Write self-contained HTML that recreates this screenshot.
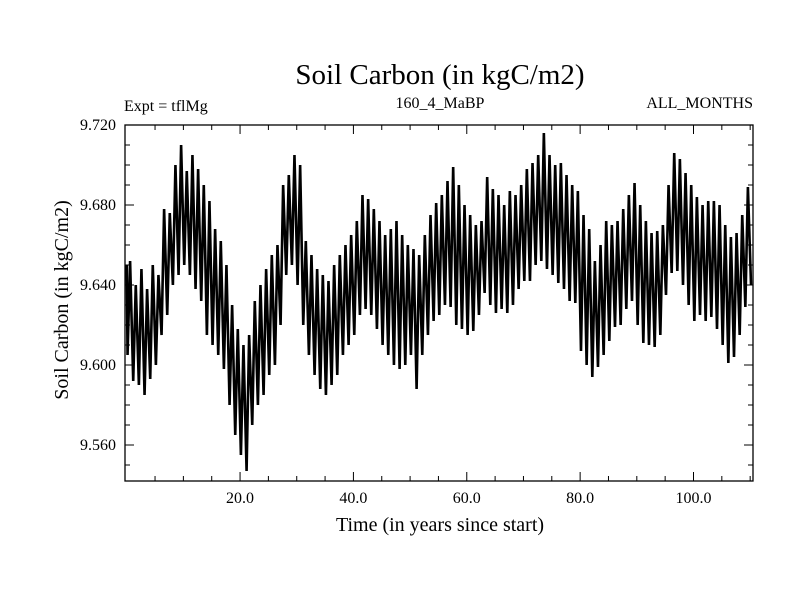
<!DOCTYPE html>
<html><head><meta charset="utf-8"><style>
body{margin:0;background:#fff;}
text{font-family:"Liberation Serif",serif;fill:#000;}
</style></head><body>
<svg id="chart" width="800" height="600" viewBox="0 0 800 600" xmlns="http://www.w3.org/2000/svg">
<rect width="800" height="600" fill="#fff"/>
<text x="440" y="84" font-size="29" text-anchor="middle">Soil Carbon (in kgC/m2)</text>
<text x="124" y="111" font-size="16">Expt = tflMg</text>
<text x="440" y="108" font-size="16" text-anchor="middle">160_4_MaBP</text>
<text x="753" y="108" font-size="16" text-anchor="end">ALL_MONTHS</text>
<text transform="translate(68,300) rotate(-90)" font-size="20" text-anchor="middle">Soil Carbon (in kgC/m2)</text>
<text x="440" y="531" font-size="20" text-anchor="middle">Time (in years since start)</text>
<g id="ticks"></g>
<path id="series" fill="none" stroke="#000" stroke-width="2.6" stroke-linejoin="miter"/>
<rect x="125" y="125" width="628" height="356" fill="none" stroke="#000" stroke-width="1.3"/>
</svg>
<script>
const peaks=[9.652,9.640,9.648,9.638,9.650,9.645,9.678,9.676,9.700,9.710,9.697,9.705,9.698,9.690,9.682,9.668,9.662,9.650,9.630,9.618,9.610,9.615,9.632,9.640,9.648,9.655,9.660,9.690,9.695,9.705,9.700,9.662,9.655,9.648,9.645,9.642,9.650,9.655,9.660,9.665,9.672,9.685,9.683,9.678,9.672,9.665,9.668,9.672,9.665,9.660,9.658,9.655,9.665,9.675,9.681,9.685,9.692,9.699,9.690,9.680,9.675,9.670,9.672,9.694,9.688,9.685,9.680,9.687,9.685,9.690,9.698,9.701,9.705,9.716,9.705,9.700,9.701,9.695,9.690,9.687,9.675,9.668,9.652,9.660,9.672,9.670,9.672,9.678,9.685,9.691,9.680,9.672,9.666,9.667,9.670,9.690,9.706,9.703,9.696,9.690,9.684,9.680,9.682,9.682,9.680,9.670,9.664,9.666,9.675,9.689,9.688];
const troughs=[9.605,9.592,9.590,9.585,9.593,9.600,9.615,9.625,9.640,9.645,9.650,9.645,9.638,9.632,9.615,9.610,9.605,9.598,9.580,9.565,9.555,9.547,9.570,9.580,9.585,9.595,9.600,9.620,9.645,9.650,9.640,9.620,9.605,9.595,9.588,9.585,9.590,9.595,9.605,9.610,9.615,9.625,9.628,9.625,9.618,9.610,9.605,9.600,9.598,9.600,9.605,9.588,9.605,9.615,9.622,9.625,9.630,9.629,9.620,9.618,9.615,9.617,9.625,9.636,9.630,9.626,9.628,9.626,9.630,9.638,9.642,9.642,9.650,9.652,9.648,9.645,9.641,9.638,9.632,9.631,9.607,9.600,9.594,9.599,9.605,9.612,9.619,9.620,9.628,9.632,9.620,9.611,9.610,9.609,9.615,9.635,9.646,9.647,9.640,9.630,9.622,9.625,9.622,9.624,9.618,9.610,9.601,9.604,9.615,9.629,9.640];
const startValue=9.650;
const xTicks=[20,40,60,80,100];
const xTickLabels=["20.0","40.0","60.0","80.0","100.0"];
const yTicks=[9.72,9.68,9.64,9.60,9.56];
const yTickLabels=["9.720","9.680","9.640","9.600","9.560"];

const L=125,R=753,T=125,B=481;
const X0=-0.3,X1=110.5,Y0=9.542,Y1=9.720;
const sx=v=>L+(v-X0)/(X1-X0)*(R-L);
const sy=v=>B-(v-Y0)/(Y1-Y0)*(B-T);
const NS="http://www.w3.org/2000/svg";

let d="M"+sx(0)+","+sy(startValue);
for(let i=0;i<peaks.length;i++){
  const xt=i+0.15, xp=i+0.6;
  if(xt<=X1) d+=" L"+sx(xt).toFixed(2)+","+sy(troughs[i]).toFixed(2);
  if(xp<=X1) d+=" L"+sx(xp).toFixed(2)+","+sy(peaks[i]).toFixed(2);
}
document.getElementById('series').setAttribute('d',d);

const g=document.getElementById('ticks');
function line(x1,y1,x2,y2,name){
  const l=document.createElementNS(NS,'line');
  l.setAttribute('x1',x1);l.setAttribute('y1',y1);l.setAttribute('x2',x2);l.setAttribute('y2',y2);
  l.setAttribute('stroke','#000');l.setAttribute('stroke-width','1');
  
  
  g.appendChild(l);
}
for(let v=5;v<X1;v+=5){
  const x=sx(v), major=(v%20===0), len=major?9:5;
  line(x,B,x,B-len,'x-tick');
  line(x,T,x,T+len,'x-tick');
}
for(let k=0;k<=18;k++){
  const v=9.72-k*0.01;
  if(v<Y0)break;
  const y=sy(v), major=(k%4===0), len=major?9:5;
  line(L,y,L+len,y,'y-tick');
  line(R,y,R-len,y,'y-tick');
}
xTicks.forEach((v,i)=>{
  const t=document.createElementNS(NS,'text');
  t.setAttribute('x',sx(v));t.setAttribute('y',B+22);
  t.setAttribute('font-size','16');t.setAttribute('text-anchor','middle');
  t.textContent=xTickLabels[i];
  
  
  g.appendChild(t);
});
yTicks.forEach((v,i)=>{
  const t=document.createElementNS(NS,'text');
  t.setAttribute('x',L-9);t.setAttribute('y',sy(v)+5);
  t.setAttribute('font-size','16');t.setAttribute('text-anchor','end');
  t.textContent=yTickLabels[i];
  
  
  g.appendChild(t);
});
</script>
</body></html>
